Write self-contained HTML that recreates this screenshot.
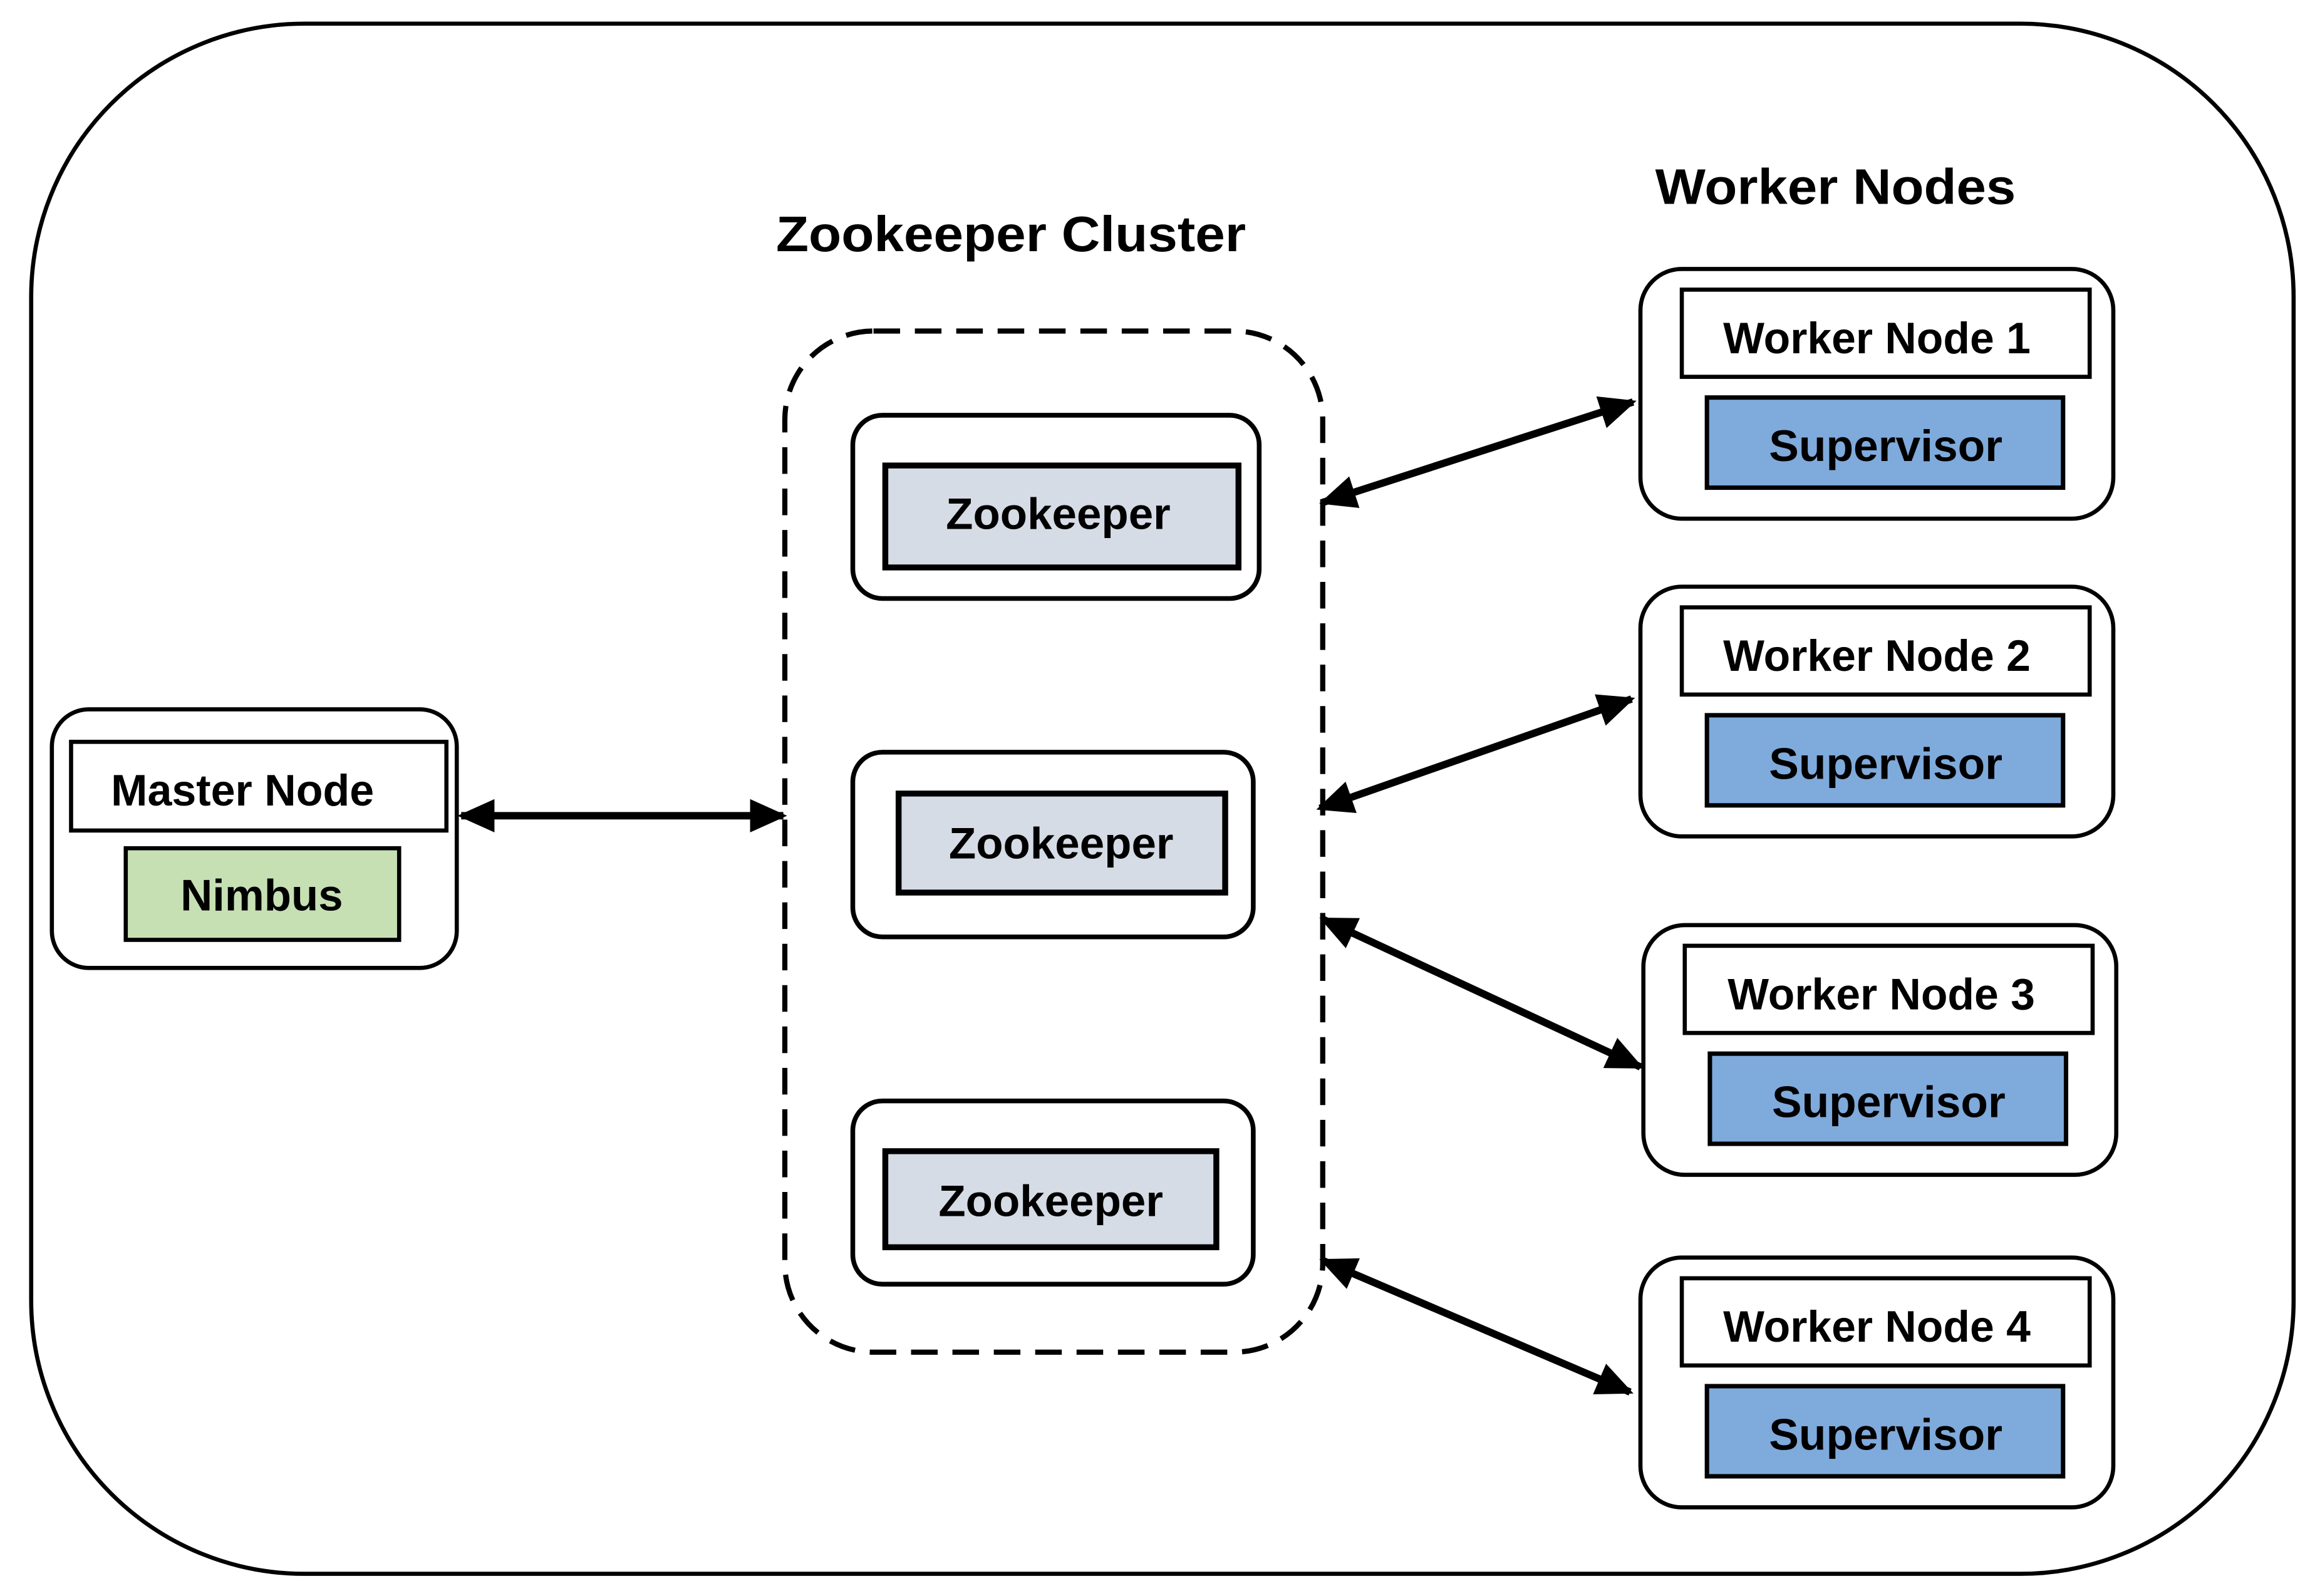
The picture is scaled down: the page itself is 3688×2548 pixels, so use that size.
<!DOCTYPE html>
<html><head><meta charset="utf-8"><style>
html,body{margin:0;padding:0;background:#fff;}
svg{display:block;}
text{font-family:"Liberation Sans",Arial,sans-serif;font-weight:bold;fill:#000;}
</style></head><body>
<svg width="3688" height="2548" viewBox="0 0 1563 1080" xmlns="http://www.w3.org/2000/svg">
<defs>
<marker id="ah" viewBox="0 0 10 10" refX="9" refY="5" markerWidth="5" markerHeight="5" orient="auto-start-reverse" markerUnits="strokeWidth">
<path d="M0,0.5 L10,5 L0,9.5 z" fill="#000"/></marker>
</defs>
<rect x="21" y="16" width="1531" height="1049" rx="185" ry="185" fill="#fff" stroke="#000" stroke-width="2.8"/>
<text x="684" y="170" font-size="34" text-anchor="middle" textLength="318" lengthAdjust="spacingAndGlyphs">Zookeeper Cluster</text>
<text x="1242" y="138" font-size="34" text-anchor="middle" textLength="244" lengthAdjust="spacingAndGlyphs">Worker Nodes</text>
<rect x="531" y="224" width="364" height="691" rx="60" ry="60" fill="none" stroke="#000" stroke-width="3.5" stroke-dasharray="18,10"/>

<g stroke="#000">
<rect x="577" y="281" width="275" height="124" rx="20" fill="#fff" stroke-width="3.2"/>
<rect x="599" y="315" width="239" height="69" fill="#d6dce5" stroke-width="4"/>
<rect x="577" y="509" width="271" height="125" rx="20" fill="#fff" stroke-width="3.2"/>
<rect x="608" y="537" width="221" height="67" fill="#d6dce5" stroke-width="4"/>
<rect x="577" y="745" width="271" height="124" rx="20" fill="#fff" stroke-width="3.2"/>
<rect x="599" y="779" width="224" height="65" fill="#d6dce5" stroke-width="4"/>

<rect x="35" y="480" width="274" height="175" rx="25" fill="#fff" stroke-width="2.8"/>
<rect x="48" y="502" width="254" height="60" fill="#fff" stroke-width="2.8"/>
<rect x="85" y="574" width="185" height="62" fill="#c6e0b4" stroke-width="2.8"/>
</g>
<text x="716" y="358" font-size="30" text-anchor="middle" textLength="152" lengthAdjust="spacingAndGlyphs">Zookeeper</text>
<text x="718" y="581" font-size="30" text-anchor="middle" textLength="152" lengthAdjust="spacingAndGlyphs">Zookeeper</text>
<text x="711" y="823" font-size="30" text-anchor="middle" textLength="152" lengthAdjust="spacingAndGlyphs">Zookeeper</text>
<text x="164" y="545" font-size="30" text-anchor="middle" textLength="178" lengthAdjust="spacingAndGlyphs">Master Node</text>
<text x="177" y="616" font-size="30" text-anchor="middle" textLength="110" lengthAdjust="spacingAndGlyphs">Nimbus</text>

<g id="w">
<rect x="1110" y="182" width="320" height="169" rx="28" fill="#fff" stroke="#000" stroke-width="2.8"/>
<rect x="1138" y="196" width="276" height="59" fill="#fff" stroke="#000" stroke-width="2.8"/>
<rect x="1155" y="269" width="241" height="61" fill="#7faadc" stroke="#000" stroke-width="3"/>
</g>
<use href="#w" transform="translate(0,215)"/>
<use href="#w" transform="translate(2,444)"/>
<use href="#w" transform="translate(0,669)"/>
<g font-size="30" text-anchor="middle">
<text x="1270" y="239" textLength="208" lengthAdjust="spacingAndGlyphs">Worker Node 1</text>
<text x="1276" y="312" textLength="158" lengthAdjust="spacingAndGlyphs">Supervisor</text>
<text x="1270" y="454" textLength="208" lengthAdjust="spacingAndGlyphs">Worker Node 2</text>
<text x="1276" y="527" textLength="158" lengthAdjust="spacingAndGlyphs">Supervisor</text>
<text x="1273" y="683" textLength="208" lengthAdjust="spacingAndGlyphs">Worker Node 3</text>
<text x="1278" y="756" textLength="158" lengthAdjust="spacingAndGlyphs">Supervisor</text>
<text x="1270" y="908" textLength="208" lengthAdjust="spacingAndGlyphs">Worker Node 4</text>
<text x="1276" y="981" textLength="158" lengthAdjust="spacingAndGlyphs">Supervisor</text>
</g>

<g stroke="#000" stroke-width="5" marker-start="url(#ah)" marker-end="url(#ah)">
<line x1="312" y1="552" x2="530" y2="552"/>
<line x1="895" y1="340" x2="1105" y2="272"/>
<line x1="893" y1="547" x2="1104" y2="473"/>
<line x1="895" y1="622" x2="1110" y2="722"/>
<line x1="895" y1="853" x2="1103" y2="942"/>
</g>
</svg>
</body></html>
